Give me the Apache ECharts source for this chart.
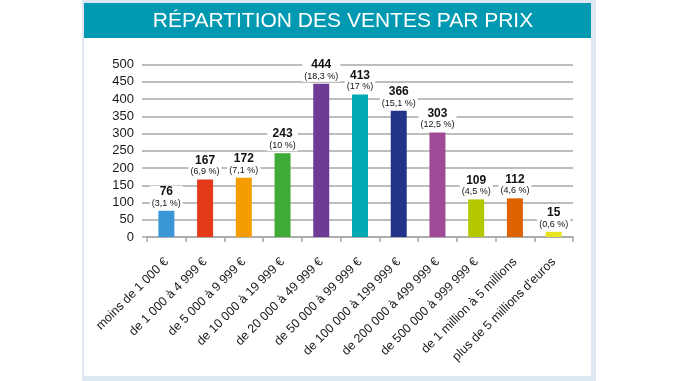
<!DOCTYPE html>
<html><head><meta charset="utf-8">
<script src="https://cdn.jsdelivr.net/npm/echarts@6/dist/echarts.min.js"></script>
<style>html,body{margin:0;padding:0;background:#fff}#c{width:678px;height:381px}</style>
</head><body><div id="c"></div>
<script>
const titleText = 'RÉPARTITION DES VENTES PAR PRIX';
const categories = ['moins de 1 000 €','de 1 000 à 4 999 €','de 5 000 à 9 999 €','de 10 000 à 19 999 €','de 20 000 à 49 999 €','de 50 000 à 99 999 €','de 100 000 à 199 999 €','de 200 000 à 499 999 €','de 500 000 à 999 999 €','de 1 million à 5 millions','plus de 5 millions d\'euros'];
const values = [76,167,172,243,444,413,366,303,109,112,15];
const percents = ['3,1','6,9','7,1','10','18,3','17','15,1','12,5','4,5','4,6','0,6'];
const barColors = ['#3a96d6','#e53a19','#f59c00','#3faa35','#6d3b96','#00aab3','#233389','#a04a97','#b4c800','#df6200','#e9e21e'];
const yTicks = {min:0, max:500, interval:50};

const FONT = "'Liberation Sans', Arial, sans-serif";
const chart = echarts.init(document.getElementById('c'), null, {renderer:'canvas'});
chart.setOption({
  animation:false,
  backgroundColor:'#fff',
  graphic:[
    {type:'rect', z:-10, shape:{x:82,y:0,width:514,height:381}, style:{fill:'#dde8f2'}},
    {type:'rect', z:-9, shape:{x:84,y:3,width:507,height:373}, style:{fill:'#ffffff'}},
    {type:'rect', z:-8, shape:{x:84,y:3,width:507,height:35}, style:{fill:'#0099b1'}},
    {type:'text', z:10, x:343, y:21, style:{text:titleText, fill:'#fff', font:"21px "+FONT, textAlign:'center', textVerticalAlign:'middle'}}
  ],
  grid:{left:147, right:105, top:64.5, bottom:144, containLabel:false},
  xAxis:{
    type:'category', data:categories,
    axisLine:{show:true, lineStyle:{color:'#a8a8a8', width:1.5}},
    axisTick:{show:true, length:5, lineStyle:{color:'#a8a8a8', width:1.5}},
    axisLabel:{interval:0, rotate:45, margin:23, fontSize:12.5, color:'#1a1a1a', fontFamily:FONT}
  },
  yAxis:{
    type:'value', min:yTicks.min, max:yTicks.max, interval:yTicks.interval,
    axisLine:{show:false},
    axisTick:{show:true, length:5, lineStyle:{color:'#a8a8a8', width:1.5}},
    splitLine:{show:true, lineStyle:{color:'#a8a8a8', width:1.5}},
    axisLabel:{margin:13, fontSize:13, color:'#1a1a1a', fontFamily:FONT}
  },
  series:[{
    type:'bar', barWidth:16,
    data: values.map((v,i)=>({value:v, itemStyle:{color:barColors[i]}})),
    label:{
      show:true, position:'top', distance:2,
      backgroundColor:'#fff', padding:[0,2,0,2],
      formatter:(p)=>'{v|'+p.value+'}\n{p|('+percents[p.dataIndex]+' %)}',
      rich:{
        v:{fontSize:12, fontWeight:'bold', color:'#111', fontFamily:FONT, lineHeight:12, align:'center'},
        p:{fontSize:9, color:'#111', fontFamily:FONT, lineHeight:11, align:'center'}
      }
    }
  }]
});
</script></body></html>
